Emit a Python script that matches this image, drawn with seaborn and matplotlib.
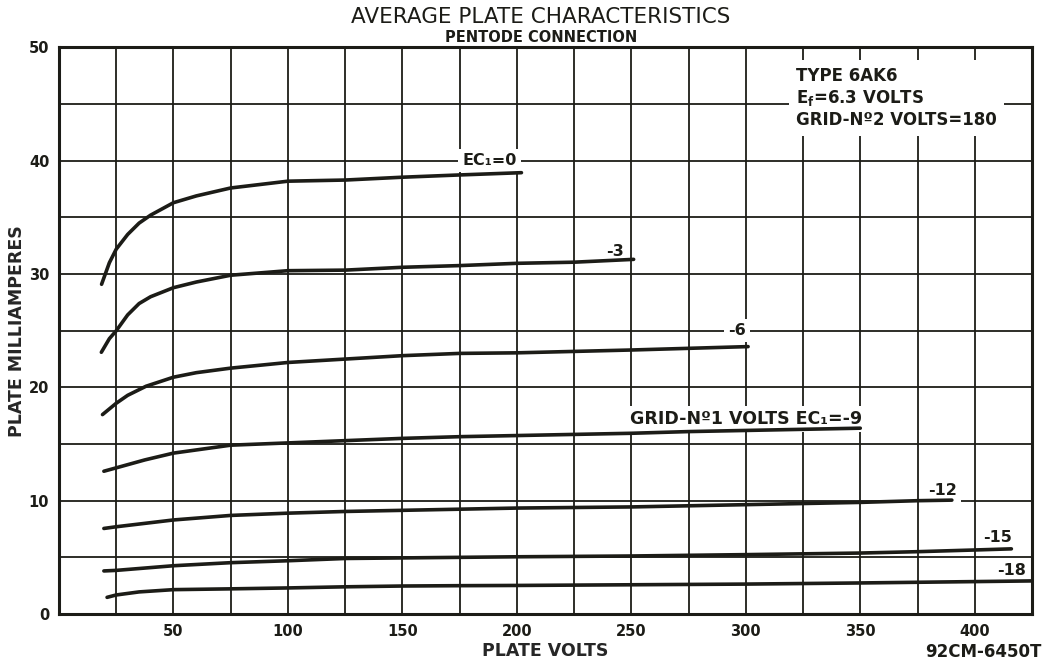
import numpy as np
import pandas as pd
import matplotlib
matplotlib.use("Agg")
import matplotlib.pyplot as plt
import seaborn as sns

ec1_grid = ["0", "-3", "-6", "-9", "-12", "-15", "-18"]

volts_0 = [18.6, 22, 25, 30, 35, 40, 50, 60, 75, 100, 125, 150, 175, 202]
ma_0 = [29.1, 31.0, 32.2, 33.5, 34.5, 35.2, 36.3, 36.9, 37.6, 38.2, 38.3, 38.55, 38.75, 38.95]

volts_3 = [18.5, 22, 25, 30, 35, 40, 50, 60, 75, 100, 125, 150, 175, 200, 225, 251]
ma_3 = [23.1, 24.3, 25.0, 26.4, 27.4, 28.0, 28.8, 29.3, 29.9, 30.3, 30.35, 30.6, 30.75, 30.95, 31.05, 31.3]

volts_6 = [19, 25, 30, 38, 50, 60, 75, 100, 125, 150, 175, 200, 250, 301]
ma_6 = [17.6, 18.6, 19.3, 20.1, 20.9, 21.3, 21.7, 22.2, 22.5, 22.8, 23.0, 23.05, 23.3, 23.6]

volts_9 = [19.6, 25, 37.5, 50, 75, 100, 125, 150, 175, 200, 225, 250, 275, 300, 325, 350]
ma_9 = [12.6, 12.9, 13.6, 14.2, 14.9, 15.1, 15.3, 15.5, 15.65, 15.75, 15.85, 15.95, 16.1, 16.2, 16.3, 16.4]

volts_12 = [19.6, 25, 50, 75, 100, 125, 150, 175, 200, 250, 300, 350, 375, 390]
ma_12 = [7.55, 7.7, 8.3, 8.7, 8.9, 9.05, 9.15, 9.25, 9.35, 9.45, 9.65, 9.85, 10.0, 10.05]

volts_15 = [19.6, 25, 50, 75, 100, 125, 150, 175, 200, 250, 300, 350, 375, 400, 416]
ma_15 = [3.8, 3.85, 4.26, 4.53, 4.7, 4.9, 4.95, 5.0, 5.05, 5.12, 5.24, 5.38, 5.5, 5.65, 5.75]

volts_18 = [21, 25, 35, 50, 75, 100, 125, 150, 175, 200, 250, 300, 350, 400, 425]
ma_18 = [1.47, 1.68, 1.95, 2.15, 2.22, 2.3, 2.4, 2.47, 2.5, 2.52, 2.58, 2.64, 2.74, 2.86, 2.92]

x_ticks = list(range(0, 426, 25))
x_tick_labels = ["" if (v % 50 or v == 0) else str(v) for v in x_ticks]
y_ticks = list(range(0, 51, 5))
y_tick_labels = ["" if v % 10 else str(v) for v in y_ticks]

INK = "#1c1c17"

# ── Build long table ─────────────────────────────────────────────────────────
series = [volts_0, volts_3, volts_6, volts_9, volts_12, volts_15, volts_18]
values = [ma_0, ma_3, ma_6, ma_9, ma_12, ma_15, ma_18]
df = pd.concat(
    [pd.DataFrame({"plate_v": v, "plate_ma": m, "ec1": g})
     for g, v, m in zip(ec1_grid, series, values)],
    ignore_index=True,
)

sns.set_theme(style="white")
plt.rcParams.update({
    "font.family": ["DejaVu Sans"],
    "font.weight": "bold",
    "text.color": INK,
    "axes.edgecolor": INK,
    "xtick.color": INK,
    "ytick.color": INK,
    "mathtext.default": "regular",
})

fig, ax = plt.subplots(figsize=(10.46, 6.64), dpi=100)
fig.subplots_adjust(left=0.0564, right=0.9866, bottom=0.0753, top=0.9285)

sns.lineplot(data=df, x="plate_v", y="plate_ma", hue="ec1", units="ec1",
             estimator=None, sort=False, palette=[INK] * len(ec1_grid),
             legend=False, lw=2.6, ax=ax, zorder=3)

ax.set_xlim(0, 425)
ax.set_ylim(0, 50)
ax.set_xticks(x_ticks)
ax.set_xticklabels(x_tick_labels, fontsize=10.5, fontweight="bold")
ax.set_yticks(y_ticks)
ax.set_yticklabels(y_tick_labels, fontsize=10.5, fontweight="bold")
ax.tick_params(length=0, pad=7)
ax.grid(True, color=INK, lw=1.3, zorder=0.5)
ax.set_axisbelow(True)
for sp in ax.spines.values():
    sp.set_linewidth(2.2)
    sp.set_visible(True)
    sp.set_zorder(5)

ax.set_xlabel("PLATE VOLTS", fontsize=12.5, fontweight="bold", labelpad=2)
ax.set_ylabel("PLATE MILLIAMPERES", fontsize=12.5, fontweight="bold", labelpad=2)

fig.text(0.517, 0.974, "AVERAGE PLATE CHARACTERISTICS", ha="center", va="center",
         fontsize=15.5, fontweight="normal")
fig.text(0.517, 0.944, "PENTODE CONNECTION", ha="center", va="center",
         fontsize=10.5, fontweight="bold")
fig.text(0.996, 0.018, "92CM-6450T", ha="right", va="center", fontsize=12,
         fontweight="bold")

# ── Curve labels (white boxes break the grid as on the sheet) ────────────────
box = dict(facecolor="white", edgecolor="none", pad=3)
lab = dict(fontsize=11.5, fontweight="bold", va="center", zorder=2, bbox=box)
ax.text(188, 40.0, "EC₁=0", ha="center", **lab)
ax.text(243, 32.0, "-3", ha="center", **lab)
ax.text(296, 25.0, "-6", ha="center", **lab)
ax.text(351, 17.2, "GRID-Nº1 VOLTS EC₁=-9", ha="right", fontsize=12.5,
        fontweight="bold", va="center", zorder=2, bbox=box)
ax.text(386, 10.9, "-12", ha="center", **lab)
ax.text(410, 6.75, "-15", ha="center", **lab)
ax.text(416, 3.8, "-18", ha="center", **lab)

ax.text(322, 48.3, "TYPE 6AK6\nE$_f$=6.3 VOLTS\nGRID-Nº2 VOLTS=180",
        ha="left", va="top", fontsize=12, fontweight="bold", linespacing=1.2,
        zorder=2, bbox=dict(facecolor="white", edgecolor="none", pad=5))

fig.savefig("out.png", dpi=100)
plt.close()
